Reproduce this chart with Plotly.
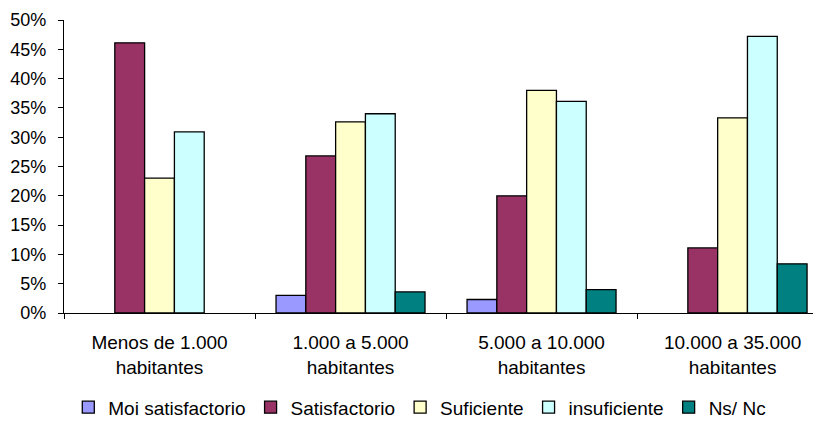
import plotly.graph_objects as go

categories = ["Menos de 1.000<br>habitantes", "1.000 a 5.000<br>habitantes",
              "5.000 a 10.000<br>habitantes", "10.000 a 35.000<br>habitantes"]
series_names = ["Moi satisfactorio", "Satisfactorio", "Suficiente", "insuficiente", "Ns/ Nc"]
moi_satisfactorio = [None, 3.0, 2.3, None]
satisfactorio = [46.1, 26.8, 20.0, 11.1]
suficiente = [23.0, 32.6, 38.0, 33.3]
insuficiente = [30.9, 34.0, 36.1, 47.2]
ns_nc = [None, 3.6, 4.0, 8.4]
colors = ["#9999FF", "#993366", "#FFFFCC", "#CCFFFF", "#008080"]
y_ticks = [0, 5, 10, 15, 20, 25, 30, 35, 40, 45, 50]

series_values = [moi_satisfactorio, satisfactorio, suficiente, insuficiente, ns_nc]

FONT = "Liberation Sans, Arial, sans-serif"

fig = go.Figure()
for name, vals, col in zip(series_names, series_values, colors):
    fig.add_trace(go.Bar(
        x=categories, y=vals, name=name,
        marker=dict(color=col, line=dict(color="black", width=1.3)),
    ))

# page body has an 8px margin, so the figure is sized to the remaining area
fig.update_layout(
    width=813, height=424,
    margin=dict(l=56, r=0, t=12, b=119, autoexpand=False),
    paper_bgcolor="white", plot_bgcolor="white",
    barmode="group", bargap=0.22, bargroupgap=0,
    font=dict(family=FONT, size=18, color="black"),
    showlegend=True,
    legend=dict(orientation="h", x=0.47, xanchor="center", y=-0.322, yanchor="middle",
                font=dict(size=19), itemwidth=30, tracegroupgap=0,
                bgcolor="rgba(0,0,0,0)"),
    xaxis=dict(
        type="category", range=[-0.5, 3.463], automargin=False,
        showline=True, linecolor="black", linewidth=1.3,
        ticks="outside", tickson="boundaries", ticklen=5, tickcolor="black", tickwidth=1.3,
        showgrid=False, zeroline=False, ticklabelstandoff=12,
        tickfont=dict(size=19),
    ),
    yaxis=dict(
        range=[0, 50], tickvals=y_ticks, ticktext=[f"{v}%" for v in y_ticks],
        automargin=False,
        showline=True, linecolor="black", linewidth=1.3,
        ticks="outside", ticklen=5, tickcolor="black", tickwidth=1.3,
        showgrid=False, zeroline=False, ticklabelstandoff=8,
        tickfont=dict(size=18),
    ),
)

fig.write_html("out.html")
